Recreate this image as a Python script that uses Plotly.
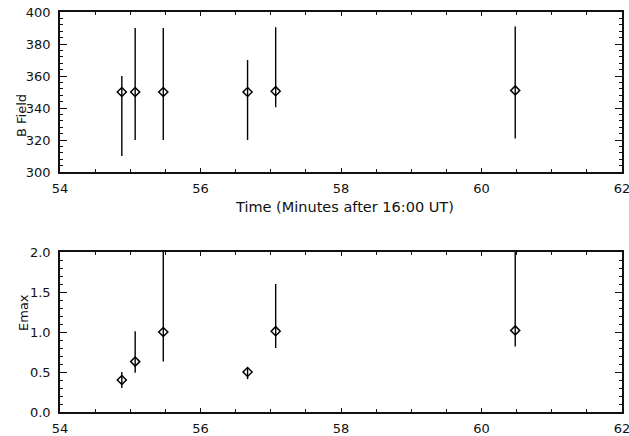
import plotly.graph_objects as go

# Data
time = [54.88, 55.07, 55.47, 56.67, 57.07, 60.48]
bfield = [350, 350, 350, 350, 350.5, 351]
bfield_hi = [360, 390, 390, 370, 390.5, 391]
bfield_lo = [310, 320, 320, 320, 340.5, 321]
emax = [0.40, 0.63, 1.00, 0.50, 1.01, 1.02]
emax_hi = [0.50, 1.01, 2.6, 0.55, 1.60, 2.6]
emax_lo = [0.30, 0.49, 0.63, 0.41, 0.80, 0.82]

FAM = "DejaVu Sans, Verdana, sans-serif"
font = dict(family=FAM, size=13, color="#111")

fig = go.Figure()
marker = dict(symbol="diamond-open", size=7, color="black", line=dict(width=1.5, color="black"))
fig.add_trace(go.Scatter(
    x=time, y=bfield, mode="markers", xaxis="x", yaxis="y", marker=marker,
    error_y=dict(type="data", symmetric=False,
                 array=[h - v for h, v in zip(bfield_hi, bfield)],
                 arrayminus=[v - l for v, l in zip(bfield, bfield_lo)],
                 width=0, thickness=1.4, color="black"),
    showlegend=False))
fig.add_trace(go.Scatter(
    x=time, y=emax, mode="markers", xaxis="x2", yaxis="y2", marker=marker,
    error_y=dict(type="data", symmetric=False,
                 array=[h - v for h, v in zip(emax_hi, emax)],
                 arrayminus=[v - l for v, l in zip(emax, emax_lo)],
                 width=0, thickness=1.4, color="black"),
    showlegend=False))

xd = [60 / 629, 622 / 629]
common_x = dict(range=[54, 62], dtick=2, tick0=54, ticks="inside", ticklen=4, tickwidth=1.2,
                tickcolor="#111", showline=True, linecolor="#111", linewidth=1.5,
                mirror="ticks", showgrid=False, zeroline=False, tickfont=font,
                automargin=False, ticklabeloverflow="allow", ticklabelstandoff=4,
                minor=dict(ticks="inside", dtick=0.5, ticklen=3, tickwidth=1, tickcolor="#111"))
common_y = dict(ticks="inside", ticklen=7, tickwidth=1.2, tickcolor="#111", showline=True,
                linecolor="#111", linewidth=1.5, mirror="ticks", showgrid=False,
                zeroline=False, tickfont=font, automargin=False, ticklabeloverflow="allow",
                ticklabelstandoff=5)

fig.update_layout(
    width=629, height=436, margin=dict(l=0, r=0, t=0, b=0, autoexpand=False),
    paper_bgcolor="white", plot_bgcolor="white", font=font,
    xaxis=dict(domain=xd, anchor="y", **common_x),
    yaxis=dict(domain=[1 - 172 / 436, 1 - 12 / 436], anchor="x", range=[300, 400], dtick=20,
               minor=dict(ticks="inside", dtick=4, ticklen=3.5, tickwidth=1, tickcolor="#111"),
               **common_y),
    xaxis2=dict(domain=xd, anchor="y2", **common_x),
    yaxis2=dict(domain=[1 - 412 / 436, 1 - 252 / 436], anchor="x2", range=[0, 2], dtick=0.5,
                tickformat=".1f",
                minor=dict(ticks="inside", dtick=0.1, ticklen=3.5, tickwidth=1, tickcolor="#111"),
                **common_y),
    annotations=[
        dict(text="B Field", x=12 / 629, y=1 - 92 / 436, xref="paper", yref="paper",
             textangle=-90, showarrow=False, font=dict(family=FAM, size=13, color="#111")),
        dict(text="Emax", x=14 / 629, y=1 - 333 / 436, xref="paper", yref="paper",
             textangle=-90, showarrow=False, font=dict(family=FAM, size=13, color="#111")),
        dict(text="Time (Minutes after 16:00 UT)", x=344 / 629, y=1 - 207 / 436,
             xref="paper", yref="paper", showarrow=False,
             font=dict(family=FAM, size=14.5, color="#111")),
    ],
)

fig.write_html("out.html")
